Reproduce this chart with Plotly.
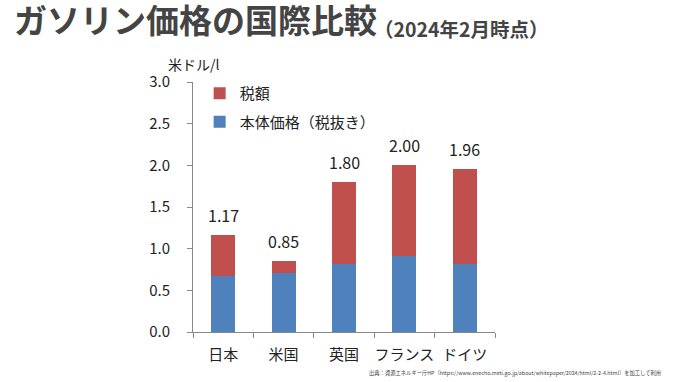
import plotly.graph_objects as go

categories = ["日本", "米国", "英国", "フランス", "ドイツ"]
base_price = [0.67, 0.71, 0.82, 0.91, 0.82]
tax = [0.50, 0.14, 0.98, 1.09, 1.14]
totals = [1.17, 0.85, 1.80, 2.00, 1.96]
total_labels = ["1.17", "0.85", "1.80", "2.00", "1.96"]
y_ticks = [0.0, 0.5, 1.0, 1.5, 2.0, 2.5, 3.0]
y_tick_labels = ["0.0", "0.5", "1.0", "1.5", "2.0", "2.5", "3.0"]

FONT = "Noto Sans CJK JP"
BLUE = "#4F81BD"
RED = "#C0504D"

fig = go.Figure()
fig.add_trace(go.Bar(x=categories, y=base_price, name="本体価格（税抜き）", legendgroup="b",
                     legendrank=2, marker=dict(color=BLUE, line=dict(width=0))))
fig.add_trace(go.Bar(x=categories, y=tax, name="税額", legendgroup="a",
                     legendrank=1, marker=dict(color=RED, line=dict(width=0))))

for c, t, lab in zip(categories, totals, total_labels):
    fig.add_annotation(x=c, y=t, text=lab, showarrow=False, yshift=20,
                       font=dict(family=FONT, size=16, color="#222"))

fig.add_annotation(xref="paper", yref="paper", x=0.0, y=1.025, xanchor="center", yanchor="bottom",
                   text="米ドル/l", showarrow=False, font=dict(family=FONT, size=14, color="#222"))

fig.add_annotation(xref="paper", yref="paper", x=-0.598, y=1.252, xanchor="left", yanchor="middle",
                   text="<b>ガソリン価格の国際比較</b>", showarrow=False,
                   font=dict(family=FONT, size=33, color="#444"))
fig.add_annotation(xref="paper", yref="paper", x=0.592, y=1.215, xanchor="left", yanchor="middle",
                   text="<b>（2024年2月時点）</b>", showarrow=False,
                   font=dict(family=FONT, size=19.5, color="#444"))
fig.add_annotation(xref="paper", yref="paper", x=1.556, y=-0.165, xanchor="right", yanchor="middle",
                   text="出典：資源エネルギー庁HP（https://www.enecho.meti.go.jp/about/whitepaper/2024/html/2-2-4.html）を加工して利用",
                   showarrow=False, font=dict(family=FONT, size=5.3, color="#444"))

fig.update_layout(
    width=680, height=382,
    margin=dict(l=193, r=185, t=82, b=50),
    paper_bgcolor="white", plot_bgcolor="white",
    barmode="stack", bargap=0.6,
    font=dict(family=FONT, size=15, color="#222"),
    legend=dict(x=0.022, y=1.02, xanchor="left", yanchor="top", traceorder="grouped",
                font=dict(family=FONT, size=15, color="#222"), tracegroupgap=6,
                itemsizing="constant", bgcolor="rgba(0,0,0,0)"),
    showlegend=True,
)
fig.update_xaxes(showline=True, linecolor="#888", linewidth=1, ticks="outside",
                 tickson="boundaries", ticklen=5, tickcolor="#888", showgrid=False,
                 tickangle=0, automargin=False, ticklabelstandoff=9,
                 tickfont=dict(family=FONT, size=15, color="#222"))
fig.update_yaxes(range=[0, 3.0], tickvals=y_ticks, ticktext=y_tick_labels,
                 showline=True, linecolor="#888", linewidth=1, ticks="outside",
                 ticklen=5, tickcolor="#888", showgrid=False, zeroline=False,
                 automargin=False, ticklabelstandoff=14,
                 tickfont=dict(family=FONT, size=15, color="#222"))

fig.write_html("out.html", config={"displayModeBar": False},
               post_script="document.body.style.margin='0';document.body.style.overflow='hidden';")
